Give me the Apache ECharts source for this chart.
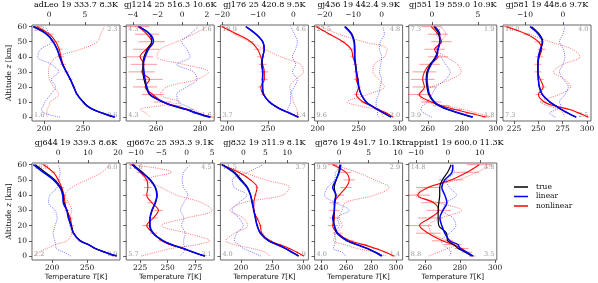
<!DOCTYPE html>
<html><head><meta charset="utf-8">
<script src="https://cdn.jsdelivr.net/npm/echarts@6/dist/echarts.min.js"></script>
<style>html,body{margin:0;padding:0;background:#fff}#c{width:598px;height:283px}</style>
</head><body><div id="c"></div>
<script>
// altitude levels [km]
const Z = [0, 2.5, 5, 7.5, 10, 15, 20, 25, 30, 35, 40, 45, 50, 55, 60];
const Z_TICKS = [0, 10, 20, 30, 40, 50, 60];
const TITLES = ['adLeo 19 333.7 8.3K', 'gj1214 25 516.3 10.6K', 'gj176 25 420.8 9.5K', 'gj436 19 442.4 9.9K',
  'gj551 19 559.0 10.9K', 'gj581 19 448.6 9.7K', 'gj644 19 339.3 8.6K', 'gj667c 25 393.3 9.1K',
  'gj832 19 311.9 8.1K', 'gj876 19 491.7 10.1K', 'trappist1 19 600.0 11.3K'];
// corner numbers: top-left, top-right, bottom-left, bottom-right
const CORNERS = [['9.3','2.3','1.6','0.6'], ['4.3','1.6','4.3','1.6'], ['18.9','4.6','3.7','1.4'], ['22.5','4.8','9.6','3.0'],
  ['7.3','1.9','3.9','1.8'], ['16.0','4.0','7.3','2.5'], ['16.0','6.0','2.2','0.9'], ['11.6','4.5','5.7','3.1'],
  ['11.5','3.7','4.0','1.9'], ['9.9','2.9','4.0','1.4'], ['14.8','4.8','8.8','3.5']];
// temperature axis (bottom) and difference axis (top)
const T_RANGE = [[184.6,297.4],[246.4,286.4],[191.4,299.5],[196.3,303.7],[248.8,300.6],[213.7,304],
  [171.4,297],[212.3,292.3],[167,307.5],[234.7,305.3],[250.9,301]];
const T_TICKS = [[200,250],[260,280],[200,250],[200,250,300],[260,280,300],[225,250,275,300],
  [200,250],[225,250,275],[200,250,300],[240,260,280,300],[260,280,300]];
const D_RANGE = [[-2.4,9.9],[-4.54,2.6],[-20.5,4.2],[-23.5,7.4],[-2.5,7.07],[-15.8,7.4],
  [-8.7,20.7],[-11.9,5.4],[-5.2,14.8],[-4.2,10.8],[-12.2,15.3]];
const D_TICKS = [[0,5],[-4,-2,0,2],[-20,-10,0],[-20,-10,0],[0,5],[-10,0],
  [0,10,20],[-10,-5,0,5],[0,5,10],[0,5,10],[-10,0,10]];
// temperature profiles, one row per panel, values at Z
const TRUE_T = [
  [290.5,275.5,263,255.5,250.5,242.5,238,233.5,228.5,224,220.5,217,212,204,187],
  [284.5,278.5,273.5,267.5,263,257,255.5,254.5,254,254,254.5,256,258,257,252.5],
  [287,276.5,266,258,251.5,244.5,243,243,243.5,242.5,243.5,245,243.5,235.5,223],
  [289,281,273,265,259,253,250,249,247.5,246.5,245.5,245.5,245,242,234],
  [286,278.5,271.5,266.5,263.5,260.5,259.5,259,259.5,261.5,264.5,266,267,266.5,263.5],
  [288.5,280.5,273.5,267.5,261.5,254,251,250,249.5,249.5,250.5,252.5,254.5,251,243],
  [292,275.5,261.5,252,240.5,231,227.5,224,221.5,217,216,212.5,204,190,176],
  [284,273,264,253.5,245.5,236.5,233.5,234,236,239,240.5,239,234.5,227,218.5],
  [291.5,281,270.5,257.5,244,231,226,223,220.5,218,215.5,210.5,200.5,189.5,170],
  [288,283,276.5,268.5,260.5,252.5,250.5,250,250.5,251,251.5,250.5,252,254,255],
  [286.7,283,279,276.5,273,272.4,268,267.6,267.6,268,268.5,268.5,270,273,275]];
const LIN_T = [
  [290.6,275.6,263,255,250,242.3,238,233.8,228.7,223.6,220,216.7,211.6,203,186],
  [284.5,278.5,274,267.9,263.3,257.3,255.8,255,254.5,254.2,255,256.5,258.8,257.3,252],
  [287,276.7,266,258,251.7,244.6,243.3,243.3,243.3,242,243.3,245.4,243.3,235,222.5],
  [289.9,281.7,273.6,265.5,259.4,253.3,250.4,249.2,247.2,246,245,245,244.3,241,232.9],
  [286.6,279,272,267,264,261,260,259.5,260,262,265,266,267,267,264],
  [289,281,274,268,262,254,251,250,249.5,249.5,250,252,254,250,241.4],
  [292.4,275.7,261.4,252,240,230.5,227,223.3,221,216,215.2,211.4,202,187.6,173.3],
  [284,273.5,264.4,253.8,246,237,234,234,235.6,238.6,240.2,238.6,234,226,217.5],
  [292,281.5,270.8,257.5,244,230.8,225.5,222.8,220.3,217.6,214.9,209.5,198.9,187.7,169.2],
  [288.9,283.6,277,269,261.1,253.2,250.6,249.2,250.6,250.6,251.9,249.2,251.9,254.5,255.8],
  [287.6,283.8,280,278.9,274.3,271.4,269.7,268.6,270.3,272.6,271.4,269.7,271.4,275.5,276]];
const NL_T = [
  [290,275,262.5,255,250.5,242.5,238.5,234,229,224.5,221.7,219.5,215,207,191],
  [285,279,274.5,268.5,263,258.5,255,257,253.5,254.5,252.7,255.5,258,255.8,251.8],
  [287.5,277,266.5,258.5,252,244,241,245.4,245.4,243.3,241,237,228.7,212,193.3],
  [291.8,284.5,274,266,255.3,247.2,250,247.2,247.2,246,243,241,230.9,214.6,198.4],
  [294,285,276,268,262,255,258,257,258,261,266,264,268,266,262],
  [301,292,282,266,256,250,255,252,249.5,249.5,251,253.5,250,238,217.5],
  [287.6,275.7,261.4,252.5,240,230.5,228,226,221,218.5,217,213.8,209,202,187.6],
  [283,273,263.5,252.5,244.7,237,231,237,241.6,235.6,231,232,231,225,217.5],
  [300,289,277,262,246.6,233,230.8,225.5,220.3,220.3,222.8,225.5,214.9,196.2,169],
  [298.2,291.6,283.6,274,263,253.2,249.2,250.6,250.6,250.6,254.5,259.8,262.5,259.8,249.2],
  [287,284,281,276,270,262,257,263,268,265,256,262,275,284,291]];
const NL_ERR = [
  [1,1,1,1.5,1.5,2,2,2.5,3,3.5,4,4.5,5,5,5],
  [1.5,2,2.5,3,4,5,5.5,6,6,6,6,6,6,5.5,5],
  [1,1,1.5,2,2,3,3.5,4,5,5,4.5,4,3.5,3,2.5],
  [1,1.5,2,2,2.5,3,3,3,3,3,3,3,3,3,3],
  [2,3,4,5,6,7,7,7,7,6,6,6,6,6,6],
  [1.5,2,2,2.5,3,3,3,3.5,3.5,3.5,4,4,4,3.5,3],
  [1,1.5,2,2,2.5,3,3.5,3.5,3.5,3.5,3.5,3.5,3.5,3,2.5],
  [1,1.5,2,2.5,3,3.5,4,4,4,4,3.5,3.5,3,3,2.5],
  [1,1.5,2,2,2.5,3,3,3,2.5,2.5,2.5,2.5,2,2,2],
  [1.5,2,2.5,3,3.5,4,4,4,4,4,4,4.5,4.5,4.5,4],
  [2,3,4,5,6,7,7,7,7,7,7,7,7,7,7]];
// differences (top axis)
const LIN_DIFF = [
  [1.5,-0.6,-1.1,-0.8,-0.6,0.2,0.9,0.3,1.35,0.3,-1.6,-1.2,0.3,0,-0.5],
  [2.0,1.46,0.92,0.3,-0.3,-0.43,0.38,1.19,0.92,-0.43,0.65,0.38,-0.03,0.65,1.3],
  [0.6,-0.5,-1.7,-1.2,-0.8,-0.8,0.2,1.1,-0.3,0.6,-0.3,0.6,1.1,0.3,-0.8],
  [-1.0,-1.5,-1.0,-1.9,-1.9,-1.0,-0.5,0,-0.7,-0.3,0,-0.7,-0.4,1.0,0.4],
  [0,-0.8,-1.2,-1.0,-0.5,0,0.5,1.5,2.0,1.5,1.0,0.5,1.0,0.5,1.2],
  [-2,-3.5,-1.8,-0.5,-0.9,0.5,1.4,0.1,-0.9,0,0.5,0.1,-0.9,0,0.5],
  [4.3,2,-0.6,-0.8,-1.1,-1.6,-1.0,-0.3,-1.0,-3.2,-2.7,-0.3,0.2,0.7,0.1],
  [-1.3,-0.6,-0.3,-0.6,-0.6,-0.3,-1,-0.6,-1.2,-0.6,0.2,-0.6,-0.9,-0.6,0.7],
  [4,2,0,-1,-2,-1.5,0,-1,-2.5,-1,0.8,-2,-2.5,1,4.5],
  [1.1,0.5,-1,-0.8,-0.6,-0.8,0,-0.3,1.7,-0.6,-2.5,-2,-0.8,-0.6,0.5],
  [0.5,1,0,-1.5,-2,0.5,2.5,1.6,-1.5,-0.5,2.7,0.5,-0.5,2,1]];
const NL_DIFF = [
  [-0.3,-0.3,-0.3,0,0.14,1.32,0.61,0.05,-0.1,0.14,1.08,4.4,6.75,7.2,7.7],
  [-2.6,-2.9,-3.4,-1.8,-0.16,-1.78,-1.24,1.19,2.14,0.11,-2.05,-1.78,-0.43,0.92,2.0],
  [1.4,1.2,1.0,0.5,0,-0.5,-1.0,0.5,2.8,2.0,-3.6,-8,-12.2,-16.6,-19],
  [0.5,0,-2,-8,-12,-5,1.0,-1.0,-3.0,-2.5,1.0,2.0,-6.3,-15,-21],
  [6.5,5.0,3.5,1.5,-0.5,-1.5,0,2.0,3.2,2.8,1.5,0.5,1.0,1.5,1.0],
  [0.5,0,-1,-4,-6,-1,2.0,0.5,-2.5,0,4.5,2.5,-3.4,-9,-15.5],
  [-8,-6.4,-3.7,-1,2.9,4.6,4.0,4.0,4.6,3.5,2.3,4.6,9.6,14.7,17.3],
  [-9,-6,-3,2,4.5,0,-5,0,5,3,-2,-5,-8,-3,-11],
  [6,5,2,-2,-4,-2,1,0,-3,0,9,10.5,5,0,-5],
  [8,6,3,1,-1,-0.5,0.5,0,0.5,1,6,8.5,6,3,-1],
  [-6,-3,0,3,0,-5,-6,-2,4.3,-3,-10,-7,3,9,14]];

// ---- layout ----
const COL0 = 32, COL_STEP = 94.2, PANEL_W = 88;
const ROWS = [{top: 25, h: 96, titleY: 5}, {top: 163, h: 97, titleY: 143}];
const SERIF = 'DejaVu Serif';
const BLUE = '#0000ff', RED = '#ff0000', BLACK = '#000000';

const grids = [], xAxes = [], yAxes = [], series = [], graphics = [];
for (let p = 0; p < TITLES.length; p++) {
  const row = p < 6 ? 0 : 1, col = p < 6 ? p : p - 6;
  const left = COL0 + COL_STEP * col, top = ROWS[row].top, h = ROWS[row].h;
  grids.push({left: left, top: top, width: PANEL_W, height: h, show: true,
    borderColor: '#666', borderWidth: 1, backgroundColor: 'transparent'});
  const tickStyle = {show: true, length: 3, inside: false, lineStyle: {color: '#333', width: 0.8}};
  const lab = {fontSize: 7.5, fontFamily: SERIF, color: '#111'};
  const noLine = {show: false, onZero: false};
  xAxes.push({type: 'value', gridIndex: p, position: 'bottom', min: T_RANGE[p][0], max: T_RANGE[p][1],
    axisLine: noLine, splitLine: {show: false},
    axisTick: Object.assign({customValues: T_TICKS[p]}, tickStyle),
    axisLabel: Object.assign({customValues: T_TICKS[p], margin: 4.5}, lab),
    name: row === 1 ? 'Temperature {i|T}[K]' : '', nameLocation: 'middle', nameGap: 12,
    nameTextStyle: {fontSize: 7.2, fontFamily: 'DejaVu Sans', color: '#111',
      rich: {i: {fontStyle: 'italic', fontSize: 7.2, fontFamily: 'DejaVu Sans', color: '#111'}}}});
  xAxes.push({type: 'value', gridIndex: p, position: 'top', min: D_RANGE[p][0], max: D_RANGE[p][1],
    axisLine: noLine, splitLine: {show: false},
    axisTick: Object.assign({customValues: D_TICKS[p]}, tickStyle),
    axisLabel: Object.assign({customValues: D_TICKS[p], margin: 5.5,
      formatter: v => (v < 0 ? '\u2212' + (-v) : '' + v)}, lab)});
  yAxes.push({type: 'value', gridIndex: p, position: 'left', min: -2.6, max: 61.1,
    axisLine: noLine, splitLine: {show: false},
    axisTick: Object.assign({customValues: Z_TICKS}, tickStyle),
    axisLabel: Object.assign({show: col === 0, customValues: Z_TICKS, margin: 5}, lab),
    name: col === 0 ? 'Altitude {i|z} [km]' : '', nameLocation: 'middle', nameGap: 19,
    nameTextStyle: {fontSize: 7.5, fontFamily: SERIF, color: '#111',
      rich: {i: {fontStyle: 'italic', fontSize: 7.5, fontFamily: SERIF, color: '#111'}}}});

  const xb = 2 * p, xt = 2 * p + 1;
  const line = (name, data, xi, color, width, type, opacity) => ({
    type: 'line', name: name, xAxisIndex: xi, yAxisIndex: p, data: data,
    showSymbol: false, symbol: 'none', smooth: 0.35, animation: false, silent: true,
    itemStyle: {color: color},
    lineStyle: {color: color, width: width, type: type, opacity: opacity}});
  series.push(line('nonlinear diff', Z.map((z, i) => [NL_DIFF[p][i], z]), xt, RED, 1, [1, 1.2], 0.55));
  series.push(line('linear diff', Z.map((z, i) => [LIN_DIFF[p][i], z]), xt, BLUE, 1, [1, 1.2], 0.55));
  series.push({type: 'custom', name: 'nonlinear err', xAxisIndex: xb, yAxisIndex: p, clip: true,
    animation: false, silent: true,
    data: Z.map((z, i) => [NL_T[p][i], z, NL_ERR[p][i]]),
    encode: {x: 0, y: 1},
    renderItem: function (params, api) {
      const t = api.value(0), z = api.value(1), e = api.value(2);
      const a = api.coord([t - e, z]), b = api.coord([t + e, z]);
      return {type: 'line', shape: {x1: a[0], y1: a[1], x2: b[0], y2: b[1]},
        style: {stroke: 'rgba(255,0,0,0.4)', lineWidth: 1}};
    }});
  series.push(line('nonlinear', Z.map((z, i) => [NL_T[p][i], z]), xb, RED, 1.1, 'solid', 1));
  series.push(line('true', Z.map((z, i) => [TRUE_T[p][i], z]), xb, BLACK, 1.2, 'solid', 1));
  series.push(line('linear', Z.map((z, i) => [LIN_T[p][i], z]), xb, BLUE, 1.5, 'solid', 1));

  // title and corner numbers
  graphics.push({type: 'text', x: left + PANEL_W / 2, y: ROWS[row].titleY, silent: true,
    style: {text: TITLES[p], font: '8px "DejaVu Serif"', fill: '#000',
      textAlign: 'center', textVerticalAlign: 'middle', align: 'center', verticalAlign: 'middle'}});
  const c = CORNERS[p];
  const pos = [[left + 2, top + 4, 'left'], [left + PANEL_W - 2.5, top + 4, 'right'],
               [left + 2, top + h - 6, 'left'], [left + PANEL_W - 2.5, top + h - 6, 'right']];
  for (let k = 0; k < 4; k++) {
    graphics.push({type: 'text', x: pos[k][0], y: pos[k][1], silent: true,
      style: {text: c[k], font: '6.5px "DejaVu Serif"', fill: '#999',
        textAlign: pos[k][2], textVerticalAlign: 'middle', align: pos[k][2], verticalAlign: 'middle'}});
  }
}

const chart = echarts.init(document.getElementById('c'), null, {renderer: 'canvas'});
chart.setOption({
  animation: false,
  grid: grids, xAxis: xAxes, yAxis: yAxes, series: series, graphic: graphics,
  legend: {data: ['true', 'linear', 'nonlinear'], orient: 'vertical', left: 509, top: 178,
    itemWidth: 14, itemHeight: 1.5, icon: 'rect', itemGap: 1.5, selectedMode: false,
    textStyle: {fontSize: 7.5, fontFamily: SERIF, color: '#111', padding: [0, 0, 0, 3]}}
});
</script></body></html>
